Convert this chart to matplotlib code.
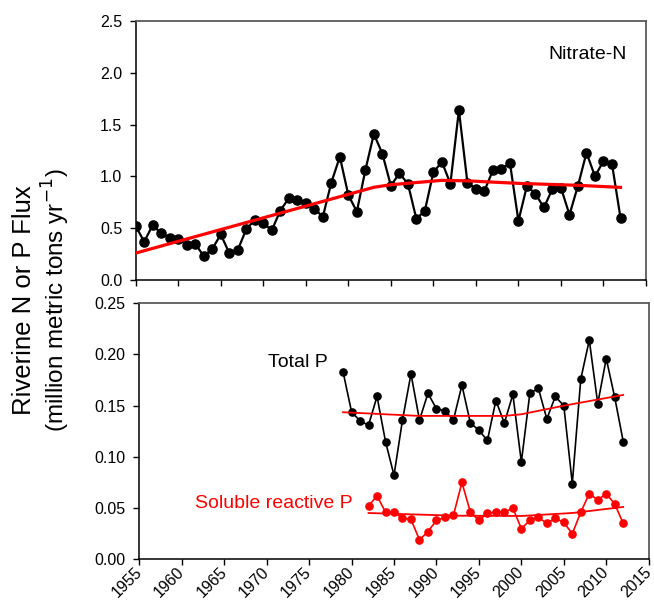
import numpy as np
import matplotlib
matplotlib.use("Agg")
import matplotlib.pyplot as plt
from matplotlib.ticker import MultipleLocator, FormatStrFormatter

plt.rcParams['font.family'] = ['Liberation Sans', 'DejaVu Sans']

# nitrate-N flux, 1955-2012
n_years = list(range(1955, 2013))
nitrate = [0.52, 0.37, 0.53, 0.45, 0.41, 0.40, 0.34, 0.35, 0.23, 0.30,
           0.44, 0.26, 0.29, 0.49, 0.58, 0.55, 0.48, 0.67, 0.79, 0.77,
           0.74, 0.69, 0.61, 0.94, 1.19, 0.82, 0.66, 1.06, 1.41, 1.22,
           0.91, 1.03, 0.93, 0.59, 0.67, 1.04, 1.14, 0.93, 1.64, 0.94,
           0.88, 0.86, 1.06, 1.07, 1.13, 0.57, 0.91, 0.83, 0.70, 0.88,
           0.89, 0.63, 0.91, 1.23, 1.00, 1.15, 1.12, 0.60]
n_trend_years = [1955, 1983, 1985, 1991, 1994, 2000, 2007, 2012]
n_trend = [0.26, 0.895, 0.92, 0.962, 0.957, 0.933, 0.914, 0.894]

# total P flux, 1979-2012
tp_years = list(range(1979, 2013))
total_p = [0.183, 0.144, 0.135, 0.131, 0.159, 0.115, 0.082, 0.136, 0.181, 0.136,
           0.162, 0.147, 0.145, 0.136, 0.170, 0.133, 0.126, 0.116, 0.155, 0.133,
           0.161, 0.095, 0.162, 0.167, 0.137, 0.159, 0.150, 0.074, 0.176, 0.214,
           0.152, 0.196, 0.158, 0.115]
tp_trend_years = [1979, 1988, 1998, 2000, 2005, 2012]
tp_trend = [0.1436, 0.140, 0.140, 0.1416, 0.150, 0.1605]

# soluble reactive P flux, 1982-2012
srp_years = list(range(1982, 2013))
srp = [0.052, 0.062, 0.046, 0.046, 0.040, 0.039, 0.019, 0.027, 0.038, 0.041,
       0.043, 0.075, 0.046, 0.038, 0.045, 0.046, 0.046, 0.050, 0.030, 0.038,
       0.041, 0.035, 0.040, 0.036, 0.025, 0.046, 0.064, 0.058, 0.064, 0.054,
       0.035]
srp_trend_years = [1982, 1992, 2000, 2006, 2012]
srp_trend = [0.0452, 0.0426, 0.0423, 0.0452, 0.0511]

x_ticks = list(range(1955, 2016, 5))

fig = plt.figure(figsize=(6.54, 6.01), dpi=100)
ax1 = fig.add_axes([0.2075, 0.5341, 0.7803, 0.4309])
ax2 = fig.add_axes([0.2130, 0.0694, 0.7789, 0.4260])

for ax in (ax1, ax2):
    ax.set_xlim(1955, 2015)
    ax.set_xticks(x_ticks)
    ax.tick_params(direction='out', length=4.2, width=1, labelsize=11.5,
                   color='black', pad=5.5)
    for side in ('left', 'bottom'):
        ax.spines[side].set_color('black')
        ax.spines[side].set_linewidth(1.1)
    for side in ('top', 'right'):
        ax.spines[side].set_color('#5a5a5a')
        ax.spines[side].set_linewidth(1.3)

# top: nitrate
ax1.plot(n_years, nitrate, color='black', lw=1.6, marker='o', ms=6.6,
         mfc='black', mec='black', zorder=3)
ax1.plot(n_trend_years, n_trend, color='#ff0000', lw=2.3, zorder=4)
ax1.set_ylim(0, 2.5)
ax1.yaxis.set_major_locator(MultipleLocator(0.5))
ax1.yaxis.set_major_formatter(FormatStrFormatter('%.1f'))
ax1.tick_params(axis='x', labelbottom=False)
ax1.text(0.963, 0.853, 'Nitrate-N', transform=ax1.transAxes, ha='right',
         va='baseline', fontsize=14)

# bottom: phosphorus
ax2.plot(tp_years, total_p, color='black', lw=1.2, marker='o', ms=5.2,
         mfc='black', mec='black', zorder=3)
ax2.plot(tp_trend_years, tp_trend, color='#ff0000', lw=1.3, zorder=4)
ax2.plot(srp_years, srp, color='#ff0000', lw=1.2, marker='o', ms=5.2,
         mfc='#ff0000', mec='#ff0000', zorder=3)
ax2.plot(srp_trend_years, srp_trend, color='#ff0000', lw=1.3, zorder=4)
ax2.set_ylim(0, 0.25)
ax2.yaxis.set_major_locator(MultipleLocator(0.05))
ax2.yaxis.set_major_formatter(FormatStrFormatter('%.2f'))
ax2.tick_params(axis='x', labelsize=11.5, pad=3.5)
for lbl in ax2.get_xticklabels():
    lbl.set_rotation(45)
    lbl.set_ha('right')
    lbl.set_va('center')
    lbl.set_rotation_mode('anchor')

ax2.text(1970.1, 0.1878, 'Total P', fontsize=14, va='baseline')
ax2.text(1961.6, 0.0504, 'Soluble reactive P', fontsize=14, va='baseline',
         color='#ff0000')

fig.text(0.036, 0.5, 'Riverine N or P Flux', rotation=90, ha='center',
         va='center', fontsize=18.5)
fig.text(0.085, 0.5, '(million metric tons yr$^{-1}$)', rotation=90,
         ha='center', va='center', fontsize=17.5)

fig.savefig('out.png', dpi=100)
